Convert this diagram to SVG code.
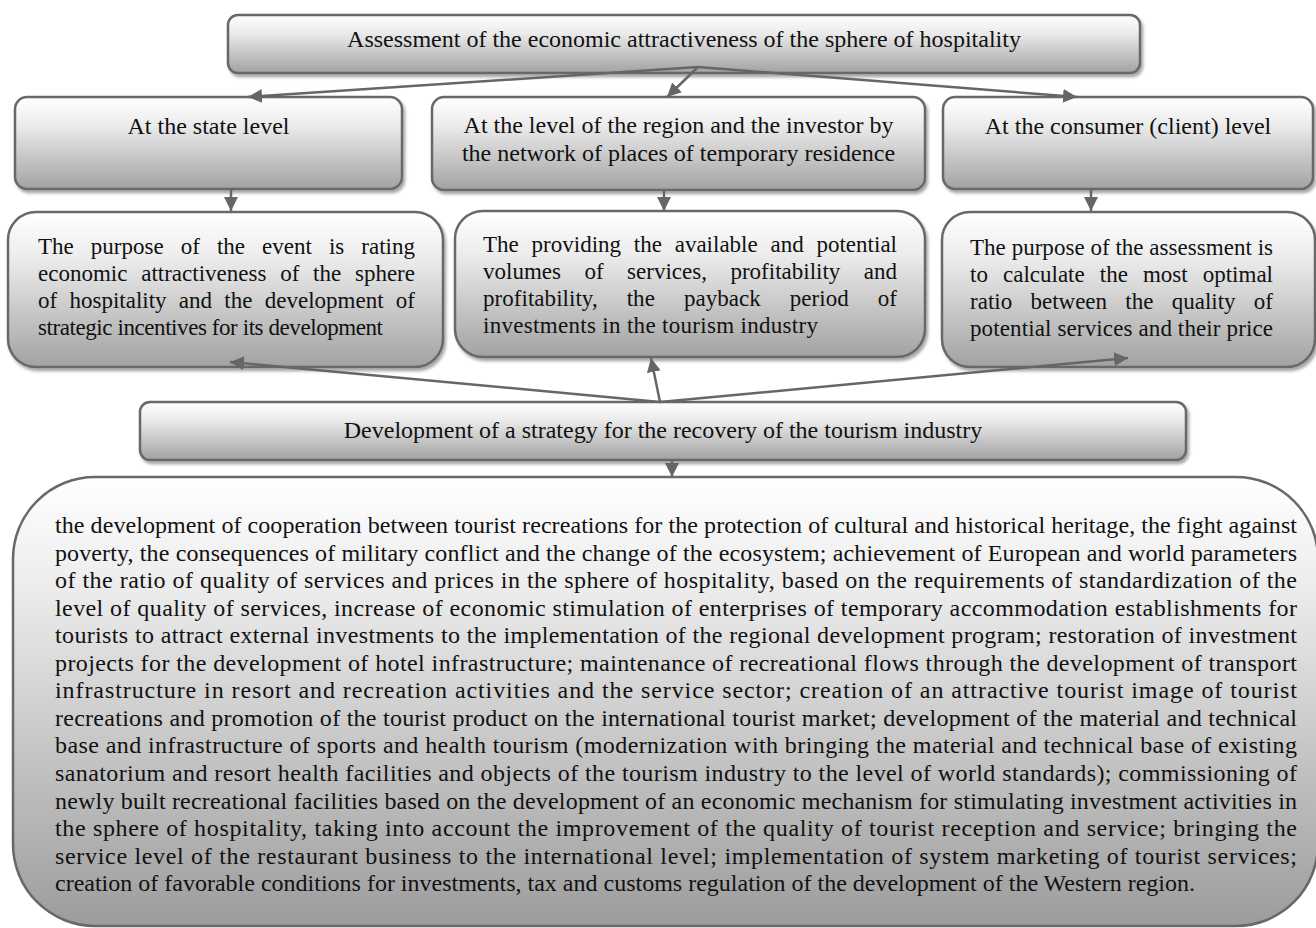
<svg xmlns="http://www.w3.org/2000/svg" width="1316" height="928" viewBox="0 0 1316 928">
<defs>
<linearGradient id="g" x1="0" y1="0" x2="0" y2="1">
<stop offset="0" stop-color="#ffffff"/>
<stop offset="0.3" stop-color="#ececec"/>
<stop offset="1" stop-color="#a2a2a2"/>
</linearGradient>
<linearGradient id="gb" x1="0" y1="0" x2="0" y2="1">
<stop offset="0" stop-color="#ffffff"/>
<stop offset="0.25" stop-color="#ececec"/>
<stop offset="1" stop-color="#9c9c9c"/>
</linearGradient>
<filter id="sh" x="-5%" y="-10%" width="110%" height="125%">
<feDropShadow dx="2" dy="3" stdDeviation="1.5" flood-color="#000" flood-opacity="0.35"/>
</filter>
<marker id="ah" viewBox="0 0 10 10" refX="10" refY="5" markerUnits="userSpaceOnUse" markerWidth="14" markerHeight="14" orient="auto">
<path d="M0,0 L10,5 L0,10 z" fill="#666"/>
</marker>
</defs>
<style>
.box{fill:url(#g);stroke:#686868;stroke-width:2.5;filter:url(#sh)}
.big{fill:url(#gb);stroke:#686868;stroke-width:2.5}
.t{font-family:"Liberation Serif","Times New Roman",serif;font-size:24px;fill:#111}
.p{font-family:"Liberation Serif","Times New Roman",serif;font-size:23px;fill:#111}
.c{text-anchor:middle}
.con line{stroke:#666;stroke-width:2.5;marker-end:url(#ah)}
</style>

<g id="top">
<rect class="box" x="228" y="15" width="912" height="58" rx="10"/>
<text class="t c" x="684" y="47">Assessment of the economic attractiveness of the sphere of hospitality</text>
</g>

<g id="state">
<rect class="box" x="15" y="97" width="387" height="92" rx="12"/>
<text class="t c" x="208.5" y="134">At the state level</text>
</g>

<g id="region">
<rect class="box" x="432" y="97" width="493" height="93" rx="12"/>
<text class="t c" x="678.5" y="133">At the level of the region and the investor by</text>
<text class="t c" x="678.5" y="161">the network of places of temporary residence</text>
</g>

<g id="consumer">
<rect class="box" x="943" y="97" width="370" height="92" rx="12"/>
<text class="t c" x="1128" y="134">At the consumer (client) level</text>
</g>

<g id="purpose-state">
<rect class="box" x="8" y="212" width="435" height="155" rx="28"/>
<text class="p" x="38" y="254" word-spacing="11.3" textLength="377">The purpose of the event is rating</text>
<text class="p" x="38" y="281" word-spacing="8" textLength="377">economic attractiveness of the sphere</text>
<text class="p" x="38" y="308" word-spacing="6.5" textLength="377">of hospitality and the development of</text>
<text class="p" x="38" y="335" textLength="345">strategic incentives for its development</text>
</g>

<g id="purpose-region">
<rect class="box" x="455" y="211" width="470" height="146" rx="28"/>
<text class="p" x="483" y="252" word-spacing="7" textLength="414">The providing the available and potential</text>
<text class="p" x="483" y="279" word-spacing="17.7" textLength="414">volumes of services, profitability and</text>
<text class="p" x="483" y="306" word-spacing="23.2" textLength="414">profitability, the payback period of</text>
<text class="p" x="483" y="333" textLength="335">investments in the tourism industry</text>
</g>

<g id="purpose-consumer">
<rect class="box" x="942" y="212" width="373" height="155" rx="28"/>
<text class="p" x="970" y="255" textLength="303">The purpose of the assessment is</text>
<text class="p" x="970" y="282" word-spacing="9.3" textLength="303">to calculate the most optimal</text>
<text class="p" x="970" y="309" word-spacing="12.5" textLength="303">ratio between the quality of</text>
<text class="p" x="970" y="336" textLength="303">potential services and their price</text>
</g>

<g id="strategy">
<rect class="box" x="140" y="402" width="1046" height="58" rx="10"/>
<text class="t c" x="663" y="438">Development of a strategy for the recovery of the tourism industry</text>
</g>

<g id="measures">
<rect class="big" x="13" y="477" width="1305" height="449" rx="82"/>
<text class="t" x="55" y="533" textLength="1242">the development of cooperation between tourist recreations for the protection of cultural and historical heritage, the fight against</text>
<text class="t" x="55" y="560.5" textLength="1242">poverty, the consequences of military conflict and the change of the ecosystem; achievement of European and world parameters</text>
<text class="t" x="55" y="588.1" textLength="1242">of the ratio of quality of services and prices in the sphere of hospitality, based on the requirements of standardization of the</text>
<text class="t" x="55" y="615.6" textLength="1242">level of quality of services, increase of economic stimulation of enterprises of temporary accommodation establishments for</text>
<text class="t" x="55" y="643.2" textLength="1242">tourists to attract external investments to the implementation of the regional development program; restoration of investment</text>
<text class="t" x="55" y="670.7" textLength="1242">projects for the development of hotel infrastructure; maintenance of recreational flows through the development of transport</text>
<text class="t" x="55" y="698.3" textLength="1242">infrastructure in resort and recreation activities and the service sector; creation of an attractive tourist image of tourist</text>
<text class="t" x="55" y="725.8" textLength="1242">recreations and promotion of the tourist product on the international tourist market; development of the material and technical</text>
<text class="t" x="55" y="753.4" textLength="1242">base and infrastructure of sports and health tourism (modernization with bringing the material and technical base of existing</text>
<text class="t" x="55" y="780.9" textLength="1242">sanatorium and resort health facilities and objects of the tourism industry to the level of world standards); commissioning of</text>
<text class="t" x="55" y="808.5" textLength="1242">newly built recreational facilities based on the development of an economic mechanism for stimulating investment activities in</text>
<text class="t" x="55" y="836" textLength="1242">the sphere of hospitality, taking into account the improvement of the quality of tourist reception and service; bringing the</text>
<text class="t" x="55" y="863.6" textLength="1242">service level of the restaurant business to the international level; implementation of system marketing of tourist services;</text>
<text class="t" x="55" y="891.1">creation of favorable conditions for investments, tax and customs regulation of the development of the Western region.</text>
</g>

<g id="connectors" class="con">
<line x1="698" y1="67" x2="248" y2="97"/>
<line x1="698" y1="67" x2="667" y2="97"/>
<line x1="698" y1="67" x2="1077" y2="97"/>
<line x1="231" y1="189" x2="231" y2="211"/>
<line x1="664" y1="190" x2="664" y2="211"/>
<line x1="1091" y1="189" x2="1091" y2="211"/>
<line x1="660" y1="402" x2="230" y2="362"/>
<line x1="660" y1="402" x2="651" y2="358"/>
<line x1="660" y1="402" x2="1128" y2="358"/>
<line x1="672" y1="460" x2="672" y2="477"/>
</g>
</svg>
